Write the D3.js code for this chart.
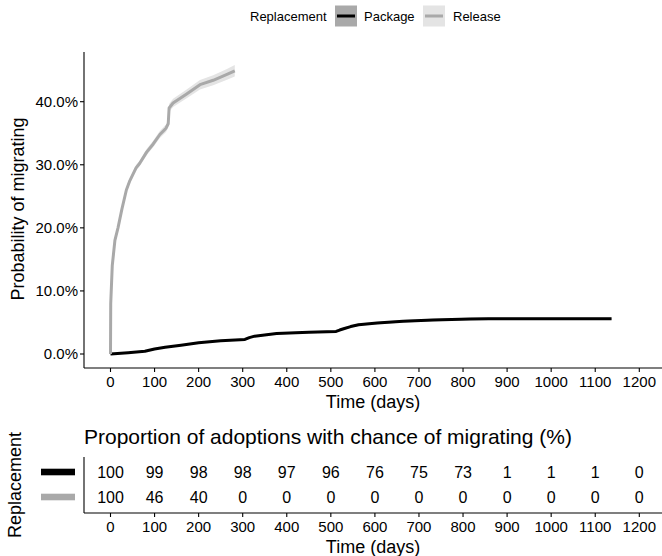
<!DOCTYPE html>
<html>
<head>
<meta charset="utf-8">
<script src="https://cdn.jsdelivr.net/npm/d3@7"></script>
<style>
  body { margin: 0; background: #fff; }
  text { font-family: "Liberation Sans", Arial, Helvetica, sans-serif; fill: #000; }
</style>
</head>
<body>
<svg id="chart" width="662" height="556"></svg>
<script>
// cumulative probability of migrating (days, fraction)
var pkgDays = [0, 40, 78, 100, 124, 160, 200, 250, 305, 315, 327, 377, 450, 512, 520, 529, 545, 563, 605, 664, 732, 816, 858, 950, 1050, 1137];
var pkgProb = [0, 0.002, 0.0043, 0.008, 0.0107, 0.014, 0.018, 0.021, 0.023, 0.026, 0.0283, 0.0326, 0.0345, 0.0358, 0.038, 0.040, 0.0435, 0.0465, 0.049, 0.052, 0.054, 0.0556, 0.056, 0.056, 0.056, 0.056];
var pkgCI = [0, 0.001, 0.001, 0.001, 0.0012, 0.0012, 0.0013, 0.0013, 0.0014, 0.0015, 0.0015, 0.0016, 0.0016, 0.0017, 0.0017, 0.0018, 0.0018, 0.0019, 0.0019, 0.002, 0.002, 0.002, 0.002, 0.002, 0.002, 0.002];

var relDays = [0, 0.5, 4, 10, 17, 26, 36, 44, 58, 66, 82, 97, 112, 126, 131, 133, 142, 172, 203, 233, 263, 282];
var relProb = [0, 0.08, 0.14, 0.18, 0.20, 0.23, 0.26, 0.275, 0.295, 0.302, 0.32, 0.333, 0.348, 0.358, 0.365, 0.39, 0.398, 0.412, 0.427, 0.434, 0.443, 0.449];
var relCI = [0, 0.003, 0.004, 0.004, 0.004, 0.004, 0.004, 0.004, 0.0045, 0.0045, 0.005, 0.005, 0.0055, 0.006, 0.006, 0.0065, 0.0065, 0.007, 0.0075, 0.008, 0.0085, 0.009];

var groups = ["Package", "Release"];
var lineColors = ["#000000", "#a9a9a9"];
var ribbonColors = ["#a9a9a9", "#e4e4e4"];

var xTicks = [0, 100, 200, 300, 400, 500, 600, 700, 800, 900, 1000, 1100, 1200];
var yTicks = [0, 0.1, 0.2, 0.3, 0.4];

// number at risk (%) per tick
var riskPackage = [100, 99, 98, 98, 97, 96, 76, 75, 73, 1, 1, 1, 0];
var riskRelease = [100, 46, 40, 0, 0, 0, 0, 0, 0, 0, 0, 0, 0];

var svg = d3.select('#chart');

var x = d3.scaleLinear().domain([0, 1200]).range([110.5, 639.3]);
var y = d3.scaleLinear().domain([0, 0.4]).range([354, 101.7]);

var panelLeft = 84, panelRight = 662, panelTop = 52, panelBottom = 368;

// ---- legend
var leg = svg.append('g').attr('transform', 'translate(0,16)');
leg.append('text').attr('x', 250).attr('y', 0).attr('dy', '0.35em')
  .style('font-size', '13px').text('Replacement');
var keyX = [335, 423], labX = [364, 453];
groups.forEach(function (g, i) {
  leg.append('rect').attr('x', keyX[i]).attr('y', -10.5).attr('width', 22).attr('height', 21)
    .attr('fill', ribbonColors[i]);
  leg.append('line').attr('x1', keyX[i] + 2).attr('x2', keyX[i] + 20).attr('y1', 0).attr('y2', 0)
    .attr('stroke', lineColors[i]).attr('stroke-width', 3);
  leg.append('text').attr('x', labX[i]).attr('y', 0).attr('dy', '0.35em')
    .style('font-size', '13px').text(g);
});

// ---- curves
var series = [
  { days: pkgDays, p: pkgProb, ci: pkgCI },
  { days: relDays, p: relProb, ci: relCI }
];
var area = d3.area()
  .x(function (d) { return x(d[0]); })
  .y0(function (d) { return y(Math.max(0, d[1] - d[2])); })
  .y1(function (d) { return y(d[1] + d[2]); });
var line = d3.line()
  .x(function (d) { return x(d[0]); })
  .y(function (d) { return y(d[1]); });

series.forEach(function (s, i) {
  var pts = s.days.map(function (d, j) { return [d, s.p[j], s.ci[j]]; });
  svg.append('path').datum(pts).attr('d', area).attr('fill', ribbonColors[i]).attr('opacity', i === 0 ? 0.6 : 1);
});
series.forEach(function (s, i) {
  var pts = s.days.map(function (d, j) { return [d, s.p[j]]; });
  svg.append('path').datum(pts).attr('d', line).attr('fill', 'none')
    .attr('stroke', lineColors[i]).attr('stroke-width', 3).attr('stroke-linejoin', 'round');
});

// ---- top axes
function drawXAxis(yPos) {
  var g = svg.append('g').attr('transform', 'translate(0,' + yPos + ')');
  g.append('line').attr('x1', panelLeft).attr('x2', panelRight).attr('stroke', '#000').attr('stroke-width', 1.1);
  g.selectAll('.tk').data(xTicks).enter().append('line')
    .attr('x1', x).attr('x2', x).attr('y1', 0).attr('y2', 4)
    .attr('stroke', '#000').attr('stroke-width', 1.1);
  g.selectAll('.lb').data(xTicks).enter().append('text')
    .attr('x', x).attr('y', 14).attr('dy', '0.35em').attr('text-anchor', 'middle')
    .style('font-size', '15px').text(function (d) { return d; });
  g.append('text').attr('x', (panelLeft + panelRight) / 2).attr('y', 34).attr('dy', '0.35em')
    .attr('text-anchor', 'middle').style('font-size', '18px').text('Time (days)');
}
drawXAxis(panelBottom);

var ya = svg.append('g');
ya.append('line').attr('x1', panelLeft).attr('x2', panelLeft).attr('y1', panelTop).attr('y2', panelBottom)
  .attr('stroke', '#000').attr('stroke-width', 1.1);
ya.selectAll('.tk').data(yTicks).enter().append('line')
  .attr('x1', panelLeft - 4).attr('x2', panelLeft).attr('y1', y).attr('y2', y)
  .attr('stroke', '#000').attr('stroke-width', 1.1);
ya.selectAll('.lb').data(yTicks).enter().append('text')
  .attr('x', panelLeft - 6).attr('y', y).attr('dy', '0.35em').attr('text-anchor', 'end')
  .style('font-size', '15px').text(d3.format('.1%'));
ya.append('text').attr('transform', 'translate(18,209) rotate(-90)')
  .attr('text-anchor', 'middle').attr('dy', '0.35em').style('font-size', '18px').text('Probability of migrating');

// ---- risk table
svg.append('text').attr('x', 84).attr('y', 437).attr('dy', '0.35em')
  .style('font-size', '21px').text('Proportion of adoptions with chance of migrating (%)');

var rowY = d3.scalePoint().domain(groups).range([472, 497]);
var tab = svg.append('g');
tab.append('line').attr('x1', panelLeft).attr('x2', panelLeft).attr('y1', 457).attr('y2', 513)
  .attr('stroke', '#000').attr('stroke-width', 1.1);
[riskPackage, riskRelease].forEach(function (row, i) {
  tab.selectAll('.r' + i).data(row).enter().append('text')
    .attr('x', function (d, j) { return x(xTicks[j]); })
    .attr('y', rowY(groups[i])).attr('dy', '0.35em').attr('text-anchor', 'middle')
    .style('font-size', '16px').text(function (d) { return d; });
  tab.append('rect').attr('x', 41).attr('y', rowY(groups[i]) - 3.3).attr('width', 34).attr('height', 6.6)
    .attr('fill', lineColors[i]);
});
tab.append('text').attr('transform', 'translate(15,485) rotate(-90)')
  .attr('text-anchor', 'middle').attr('dy', '0.35em').style('font-size', '18px').text('Replacement');
drawXAxis(513);
</script>
</body>
</html>
